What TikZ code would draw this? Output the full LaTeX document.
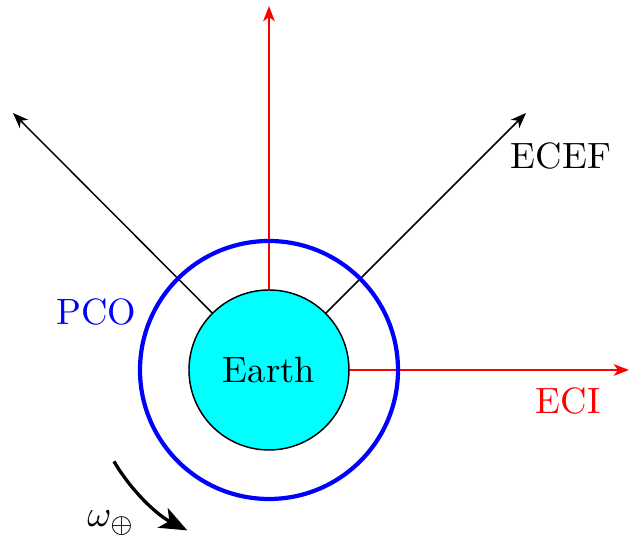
\documentclass[tikz,border=0pt]{standalone}
\usetikzlibrary{arrows.meta}
\definecolor{earthcyan}{RGB}{0,255,255}
\begin{document}
\begin{tikzpicture}[x=0.2732pt,y=-0.2732pt,
  axis/.style={line width=0.4pt,-{Stealth[length=4.2pt,width=3.2pt,inset=1.2pt]}},
  omegaarrow/.style={line width=0.9pt,-{Stealth[length=7.5pt,width=6pt,inset=2pt]}}]
\useasboundingbox (0,0) rectangle (629,540);
\coordinate (c) at (269,370);
\coordinate (zend) at (269,6);
\coordinate (xend) at (629,370);
\coordinate (ecefa) at (526,113);
\coordinate (ecefb) at (13,113);
\draw[axis,red] (c) -- (zend);
\draw[axis,red] (c) -- (xend);
\draw[axis,black] (c) -- (ecefa);
\draw[axis,black] (c) -- (ecefb);
\draw[blue,line width=1.15pt] (c) circle[radius=129];
\node[circle,draw=black,fill=earthcyan,line width=0.4pt,minimum size=160*0.2732pt,inner sep=0pt] (earth) at (c) {Earth};
\node[text=black] (ecef) at (561,156) {ECEF};
\node[text=red] (eci) at (568,401) {ECI};
\node[text=blue] (pco) at (96,312) {PCO};
\draw[omegaarrow] (c) ++(149.5:180) coordinate (wa) arc[start angle=149.5,end angle=117,radius=180] coordinate (wb);
\node (omega) at (111,523) {$\omega_\oplus$};
\end{tikzpicture}
\end{document}
